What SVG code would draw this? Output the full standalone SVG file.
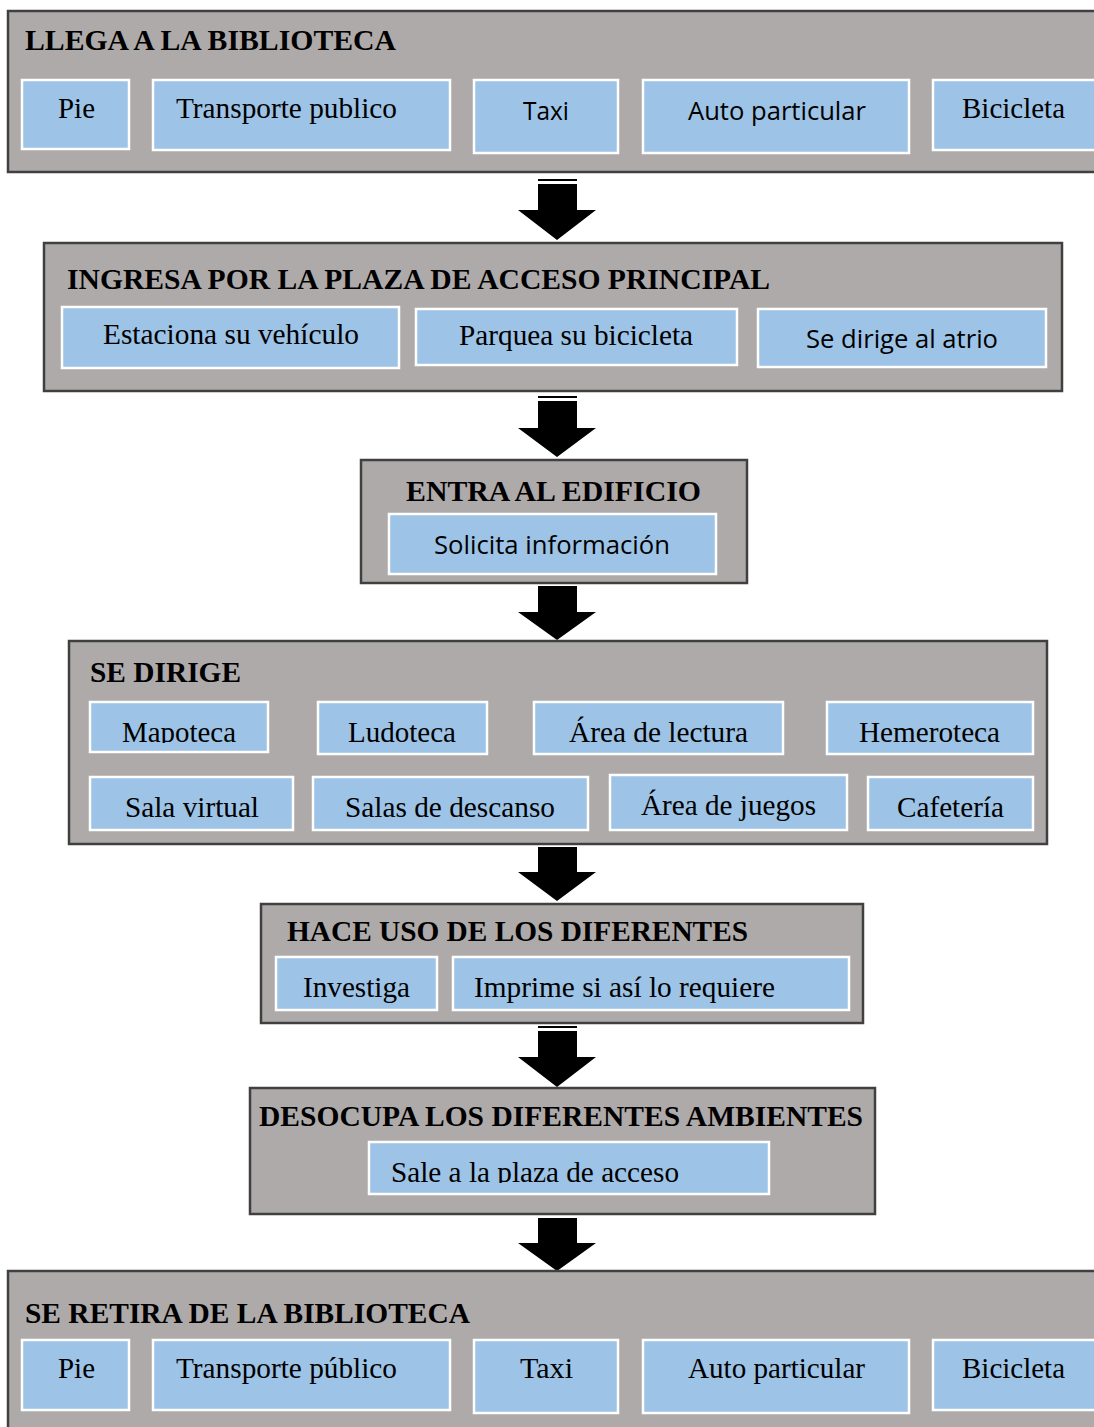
<svg xmlns="http://www.w3.org/2000/svg" width="1094" height="1427" viewBox="0 0 1094 1427">
<style>
.stage{fill:#aeaaaa;stroke:#404040;stroke-width:2.5}
.item{fill:#9dc3e6;stroke:#ffffff;stroke-width:2.5}
.ttl{font-family:"Liberation Serif","Times New Roman",serif;font-weight:bold;font-size:29px;fill:#000}
.ser{font-family:"Liberation Serif","Times New Roman",serif;font-size:29px;fill:#000}
.san{font-family:"Open Sans","Noto Sans","Liberation Sans",sans-serif;font-size:25px;fill:#000}
.arr{fill:#000}
</style>
<defs>
  <clipPath id="clipMapoteca"><rect x="90" y="700" width="178" height="43"/></clipPath>
  <clipPath id="clipSale"><rect x="369" y="1140" width="400" height="43"/></clipPath>
</defs>
<rect x="0" y="0" width="1094" height="1427" fill="#ffffff"/>

<g id="connectors">
  <g id="arrow1"><rect class="arr" x="538" y="179" width="39" height="2"/><path class="arr" d="M538,184 H577 V210 H596 L557,240 L518,210 H538 Z"/></g>
  <g id="arrow2"><rect class="arr" x="538" y="396" width="39" height="2"/><path class="arr" d="M538,401 H577 V428 H596 L557,457 L518,428 H538 Z"/></g>
  <g id="arrow3"><path class="arr" d="M538,586 H577 V612 H596 L557,640 L518,612 H538 Z"/></g>
  <g id="arrow4"><path class="arr" d="M538,847 H577 V872 H596 L557,901 L518,872 H538 Z"/></g>
  <g id="arrow5"><rect class="arr" x="538" y="1026" width="39" height="2"/><path class="arr" d="M538,1031 H577 V1057 H596 L557,1087 L518,1057 H538 Z"/></g>
  <g id="arrow6"><path class="arr" d="M538,1218 H577 V1243 H596 L557,1271 L518,1243 H538 Z"/></g>
</g>

<g id="llega">
  <rect class="stage" x="8" y="11" width="1100" height="161"/>
  <text class="ttl" x="25" y="50" textLength="371" lengthAdjust="spacingAndGlyphs">LLEGA A LA BIBLIOTECA</text>
  <g id="llega-pie"><rect class="item" x="22" y="80" width="107" height="69"/><text class="ser" x="58" y="118" textLength="37" lengthAdjust="spacingAndGlyphs">Pie</text></g>
  <g id="llega-transporte"><rect class="item" x="153" y="80" width="297" height="70"/><text class="ser" x="176" y="118" textLength="221" lengthAdjust="spacingAndGlyphs">Transporte publico</text></g>
  <g id="llega-taxi"><rect class="item" x="474" y="80" width="144" height="73"/><text class="san" x="523" y="120" textLength="46" lengthAdjust="spacingAndGlyphs">Taxi</text></g>
  <g id="llega-auto"><rect class="item" x="643" y="80" width="266" height="73"/><text class="san" x="688" y="120" textLength="178" lengthAdjust="spacingAndGlyphs">Auto particular</text></g>
  <g id="llega-bici"><rect class="item" x="933" y="80" width="170" height="70"/><text class="ser" x="962" y="118" textLength="103" lengthAdjust="spacingAndGlyphs">Bicicleta</text></g>
</g>

<g id="ingresa">
  <rect class="stage" x="44" y="243" width="1018" height="148"/>
  <text class="ttl" x="67" y="289" textLength="703" lengthAdjust="spacingAndGlyphs">INGRESA POR LA PLAZA DE ACCESO PRINCIPAL</text>
  <g id="ingresa-estaciona"><rect class="item" x="62" y="307" width="337" height="61"/><text class="ser" x="103" y="344" textLength="256" lengthAdjust="spacingAndGlyphs">Estaciona su vehículo</text></g>
  <g id="ingresa-parquea"><rect class="item" x="416" y="309" width="321" height="56"/><text class="ser" x="459" y="345" textLength="234" lengthAdjust="spacingAndGlyphs">Parquea su bicicleta</text></g>
  <g id="ingresa-atrio"><rect class="item" x="758" y="309" width="288" height="58"/><text class="san" x="806" y="348" textLength="192" lengthAdjust="spacingAndGlyphs">Se dirige al atrio</text></g>
</g>

<g id="entra">
  <rect class="stage" x="361" y="460" width="386" height="123"/>
  <text class="ttl" x="406" y="501" textLength="295" lengthAdjust="spacingAndGlyphs">ENTRA AL EDIFICIO</text>
  <g id="entra-solicita"><rect class="item" x="389" y="514" width="327" height="60"/><text class="san" x="434" y="554" textLength="236" lengthAdjust="spacingAndGlyphs">Solicita información</text></g>
</g>

<g id="dirige">
  <rect class="stage" x="69" y="641" width="978" height="203"/>
  <text class="ttl" x="90" y="682" textLength="151" lengthAdjust="spacingAndGlyphs">SE DIRIGE</text>
  <g id="dirige-mapoteca"><rect class="item" x="90" y="702" width="178" height="50"/><text class="ser" x="122" y="742" textLength="114" lengthAdjust="spacingAndGlyphs" clip-path="url(#clipMapoteca)">Mapoteca</text></g>
  <g id="dirige-ludoteca"><rect class="item" x="318" y="702" width="169" height="52"/><text class="ser" x="348" y="742" textLength="108" lengthAdjust="spacingAndGlyphs">Ludoteca</text></g>
  <g id="dirige-lectura"><rect class="item" x="534" y="702" width="249" height="52"/><text class="ser" x="569" y="742" textLength="179" lengthAdjust="spacingAndGlyphs">Área de lectura</text></g>
  <g id="dirige-hemeroteca"><rect class="item" x="827" y="702" width="206" height="52"/><text class="ser" x="859" y="742" textLength="141" lengthAdjust="spacingAndGlyphs">Hemeroteca</text></g>
  <g id="dirige-sala"><rect class="item" x="90" y="777" width="203" height="53"/><text class="ser" x="125" y="817" textLength="134" lengthAdjust="spacingAndGlyphs">Sala virtual</text></g>
  <g id="dirige-descanso"><rect class="item" x="313" y="777" width="275" height="53"/><text class="ser" x="345" y="817" textLength="210" lengthAdjust="spacingAndGlyphs">Salas de descanso</text></g>
  <g id="dirige-juegos"><rect class="item" x="610" y="775" width="237" height="55"/><text class="ser" x="641" y="815" textLength="175" lengthAdjust="spacingAndGlyphs">Área de juegos</text></g>
  <g id="dirige-cafeteria"><rect class="item" x="868" y="777" width="165" height="53"/><text class="ser" x="897" y="817" textLength="107" lengthAdjust="spacingAndGlyphs">Cafetería</text></g>
</g>

<g id="hace">
  <rect class="stage" x="261" y="904" width="602" height="119"/>
  <text class="ttl" x="287" y="941" textLength="461" lengthAdjust="spacingAndGlyphs">HACE USO DE LOS DIFERENTES</text>
  <g id="hace-investiga"><rect class="item" x="276" y="957" width="161" height="53"/><text class="ser" x="303" y="997" textLength="107" lengthAdjust="spacingAndGlyphs">Investiga</text></g>
  <g id="hace-imprime"><rect class="item" x="453" y="957" width="396" height="53"/><text class="ser" x="474" y="997" textLength="301" lengthAdjust="spacingAndGlyphs">Imprime si así lo requiere</text></g>
</g>

<g id="desocupa">
  <rect class="stage" x="250" y="1088" width="625" height="126"/>
  <text class="ttl" x="259" y="1126" textLength="604" lengthAdjust="spacingAndGlyphs">DESOCUPA LOS DIFERENTES AMBIENTES</text>
  <g id="desocupa-sale"><rect class="item" x="369" y="1142" width="400" height="52"/><text class="ser" x="391" y="1182" textLength="288" lengthAdjust="spacingAndGlyphs" clip-path="url(#clipSale)">Sale a la plaza de acceso</text></g>
</g>

<g id="retira">
  <rect class="stage" x="8" y="1271" width="1100" height="170"/>
  <text class="ttl" x="25" y="1323" textLength="445" lengthAdjust="spacingAndGlyphs">SE RETIRA DE LA BIBLIOTECA</text>
  <g id="retira-pie"><rect class="item" x="22" y="1340" width="107" height="70"/><text class="ser" x="58" y="1378" textLength="37" lengthAdjust="spacingAndGlyphs">Pie</text></g>
  <g id="retira-transporte"><rect class="item" x="153" y="1340" width="297" height="70"/><text class="ser" x="176" y="1378" textLength="221" lengthAdjust="spacingAndGlyphs">Transporte público</text></g>
  <g id="retira-taxi"><rect class="item" x="474" y="1340" width="144" height="73"/><text class="ser" x="520" y="1378" textLength="53" lengthAdjust="spacingAndGlyphs">Taxi</text></g>
  <g id="retira-auto"><rect class="item" x="643" y="1340" width="266" height="73"/><text class="ser" x="688" y="1378" textLength="177" lengthAdjust="spacingAndGlyphs">Auto particular</text></g>
  <g id="retira-bici"><rect class="item" x="933" y="1340" width="170" height="70"/><text class="ser" x="962" y="1378" textLength="103" lengthAdjust="spacingAndGlyphs">Bicicleta</text></g>
</g>
</svg>
